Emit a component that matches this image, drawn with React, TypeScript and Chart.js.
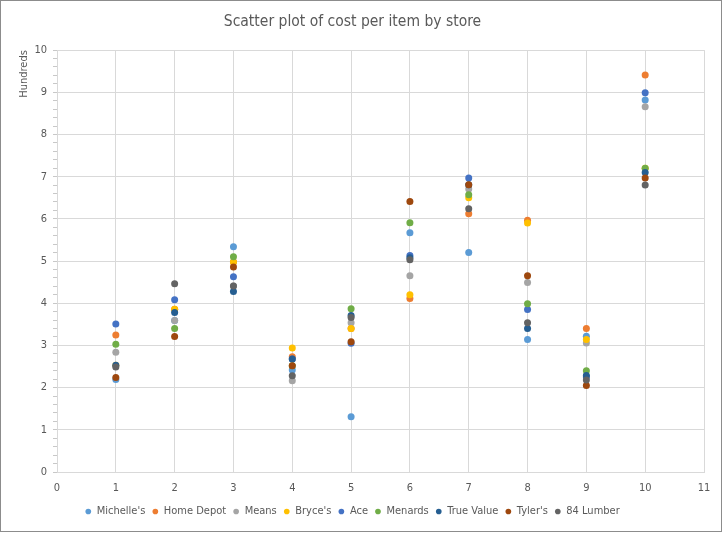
import React, { useEffect, useRef } from "react";
import { Chart, registerables } from "chart.js";

Chart.register(...registerables);

// Item index along the x axis (1..10)
const items = [1, 2, 3, 4, 5, 6, 7, 8, 9, 10];

// Cost per item, in hundreds
const michelles = [2.19, 3.59, 5.34, 2.42, 1.31, 5.67, 5.2, 3.14, 3.22, 8.82];
const homeDepot = [3.25, 3.86, 4.98, 2.73, 3.4, 4.11, 6.12, 5.97, 3.4, 9.41];
const means = [2.84, 3.59, 4.41, 2.16, 3.54, 4.65, 6.71, 4.49, 3.06, 8.66];
const bryces = [2.53, 3.86, 4.98, 2.94, 3.4, 4.2, 6.5, 5.9, 3.14, 7.2];
const ace = [3.51, 4.08, 4.63, 2.68, 3.05, 5.13, 6.97, 3.85, 2.25, 8.99];
const menards = [3.03, 3.4, 5.1, 2.52, 3.87, 5.91, 6.57, 3.99, 2.4, 7.2];
const trueValue = [2.53, 3.78, 4.28, 2.68, 3.71, 5.08, 6.81, 3.4, 2.29, 7.1];
const tylers = [2.24, 3.21, 4.86, 2.52, 3.09, 6.41, 6.81, 4.65, 2.05, 6.97];
const lumber84 = [2.49, 4.46, 4.41, 2.28, 3.66, 5.03, 6.24, 3.54, 2.18, 6.8];

const storeNames = [
  "Michelle's",
  "Home Depot",
  "Means",
  "Bryce's",
  "Ace",
  "Menards",
  "True Value",
  "Tyler's",
  "84 Lumber",
];
const storeValues = [michelles, homeDepot, means, bryces, ace, menards, trueValue, tylers, lumber84];
const storeColors = [
  "#5B9BD5",
  "#ED7D31",
  "#A5A5A5",
  "#FFC000",
  "#4472C4",
  "#70AD47",
  "#255E91",
  "#9E480E",
  "#636363",
];

const xTicksMin = 0;
const xTicksMax = 11;
const yTicksMin = 0;
const yTicksMax = 10;

const FONT = "'Liberation Sans Narrow', 'DejaVu Sans Condensed', Lato, sans-serif";
const TEXT = "#595959";
const GRID = "#d9d9d9";

const isWhole = (v: number) => Math.abs(v - Math.round(v)) < 1e-6;

export default function App() {
  const canvasRef = useRef<HTMLCanvasElement | null>(null);

  useEffect(() => {
    document.body.style.margin = "0";
    const canvas = canvasRef.current;
    if (!canvas) return;

    const datasets = storeNames.map((name, i) => ({
      label: name,
      data: items.map((x, j) => ({ x, y: storeValues[i][j] })),
      backgroundColor: storeColors[i],
      borderColor: storeColors[i],
      pointRadius: 3.5,
      pointBorderWidth: 0,
      borderWidth: 0,
      // later stores are painted over earlier ones
      order: storeNames.length - 1 - i,
    }));

    const chart = new Chart(canvas, {
      type: "scatter",
      data: { datasets },
      options: {
        animation: false,
        responsive: false,
        layout: { padding: { left: 0, right: 17, top: 0, bottom: 4 } },
        plugins: {
          title: {
            display: true,
            text: "Scatter plot of cost per item by store",
            color: TEXT,
            font: { family: FONT, size: 15.5, weight: "normal" },
            padding: { top: 12, bottom: 18.5 },
          },
          legend: {
            position: "bottom",
            labels: {
              usePointStyle: true,
              pointStyle: "circle",
              boxWidth: 6,
              boxHeight: 4,
              padding: 7,
              color: TEXT,
              font: { family: FONT, size: 11 },
              sort: (a: any, b: any) => a.datasetIndex - b.datasetIndex,
            },
          },
          tooltip: { enabled: false },
        },
        scales: {
          x: {
            type: "linear",
            min: xTicksMin,
            max: xTicksMax,
            afterFit: (scale: any) => {
              scale.height = 27;
            },
            ticks: {
              stepSize: 1,
              padding: 10,
              color: TEXT,
              font: { family: FONT, size: 11 },
            },
            grid: { color: GRID, drawTicks: false },
            border: { color: GRID },
          },
          y: {
            type: "linear",
            min: yTicksMin,
            max: yTicksMax,
            afterFit: (scale: any) => {
              scale.width = 56;
            },
            title: {
              display: true,
              text: "Hundreds",
              align: "end",
              color: TEXT,
              font: { family: FONT, size: 11 },
              padding: { top: 17, bottom: 0 },
            },
            ticks: {
              stepSize: 0.2,
              autoSkip: false,
              padding: 6,
              color: TEXT,
              font: { family: FONT, size: 11 },
              callback: (v: any) => (isWhole(Number(v)) ? String(Math.round(Number(v))) : ""),
            },
            grid: {
              tickLength: 4,
              color: (ctx: any) => (ctx.tick && isWhole(ctx.tick.value) ? GRID : "rgba(0,0,0,0)"),
              tickColor: "#c8c8c8",
            },
            border: { color: GRID },
          },
        },
      },
    });

    return () => chart.destroy();
  }, []);

  return (
    <div
      style={{
        width: 722,
        height: 532,
        boxSizing: "border-box",
        border: "1px solid #8c8c8c",
        background: "#fff",
        overflow: "hidden",
      }}
    >
      <canvas ref={canvasRef} width={720} height={530} style={{ display: "block" }} />
    </div>
  );
}
